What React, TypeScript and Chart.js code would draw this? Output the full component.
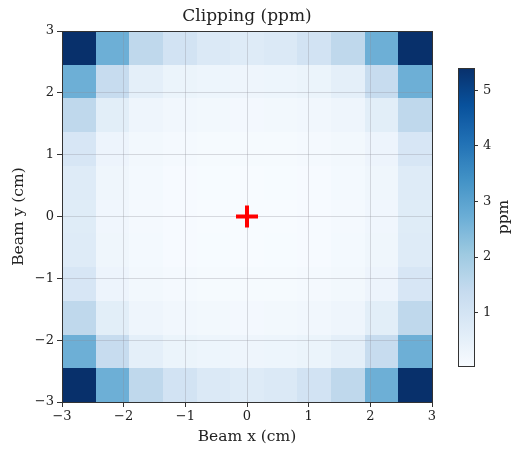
import React, { useEffect, useRef } from 'react';
import { Chart, registerables } from 'chart.js';

Chart.register(...registerables);

const FONT = "'DejaVu Serif', serif";

// Heatmap values (ppm), rows listed from top (y = +3) to bottom (y = -3), columns from x = -3 to x = +3
const row0 = [5.4, 2.7, 1.5, 1.05, 0.8, 0.7, 0.8, 1.05, 1.5, 2.7, 5.4];
const row1 = [2.7, 1.35, 0.55, 0.35, 0.3, 0.28, 0.3, 0.35, 0.55, 1.35, 2.7];
const row2 = [1.5, 0.6, 0.28, 0.2, 0.17, 0.16, 0.17, 0.2, 0.28, 0.6, 1.5];
const row3 = [0.9, 0.32, 0.18, 0.12, 0.1, 0.09, 0.1, 0.12, 0.18, 0.32, 0.9];
const row4 = [0.72, 0.25, 0.14, 0.08, 0.06, 0.05, 0.06, 0.08, 0.14, 0.25, 0.72];
const row5 = [0.68, 0.24, 0.12, 0.07, 0.05, 0.04, 0.05, 0.07, 0.12, 0.24, 0.68];
const row6 = [0.72, 0.25, 0.14, 0.08, 0.06, 0.05, 0.06, 0.08, 0.14, 0.25, 0.72];
const row7 = [0.9, 0.32, 0.18, 0.12, 0.1, 0.09, 0.1, 0.12, 0.18, 0.32, 0.9];
const row8 = [1.5, 0.6, 0.28, 0.2, 0.17, 0.16, 0.17, 0.2, 0.28, 0.6, 1.5];
const row9 = [2.7, 1.35, 0.55, 0.35, 0.3, 0.28, 0.3, 0.35, 0.55, 1.35, 2.7];
const row10 = [5.4, 2.7, 1.5, 1.05, 0.8, 0.7, 0.8, 1.05, 1.5, 2.7, 5.4];
const heatRows = [row0, row1, row2, row3, row4, row5, row6, row7, row8, row9, row10];

const AXIS_MIN = -3;
const AXIS_MAX = 3;
const axisTicks = [-3, -2, -1, 0, 1, 2, 3];
const colorbarTicks = [1, 2, 3, 4, 5];
const VMIN = 0.04;
const VMAX = 5.4;
const markerPoint = [{ x: 0, y: 0 }];
const TITLE = 'Clipping (ppm)';

const BLUES = ['#f7fbff', '#deebf7', '#c6dbef', '#9ecae1', '#6baed6', '#4292c6', '#2171b5', '#08519c', '#08306b'];

function hexToRgb(h: string) {
  return [parseInt(h.slice(1, 3), 16), parseInt(h.slice(3, 5), 16), parseInt(h.slice(5, 7), 16)];
}
const BLUES_RGB = BLUES.map(hexToRgb);

function bluesColor(t: number) {
  const tt = Math.max(0, Math.min(1, t));
  const pos = tt * (BLUES_RGB.length - 1);
  const i = Math.min(Math.floor(pos), BLUES_RGB.length - 2);
  const f = pos - i;
  const a = BLUES_RGB[i];
  const b = BLUES_RGB[i + 1];
  const c = a.map((v, k) => Math.round(v + (b[k] - v) * f));
  return `rgb(${c[0]},${c[1]},${c[2]})`;
}

const fmt = (v: number | string) => {
  const n = Number(v);
  return n < 0 ? '\u2212' + Math.abs(n) : String(n);
};

export default function App() {
  const mainRef = useRef<HTMLCanvasElement | null>(null);
  const cbRef = useRef<HTMLCanvasElement | null>(null);

  useEffect(() => {
    if (!mainRef.current || !cbRef.current) return;

    const heatPlugin = {
      id: 'heat',
      beforeDraw(chart: any) {
        const { ctx, scales } = chart;
        const xs = scales.x;
        const ys = scales.y;
        const n = heatRows.length;
        const step = (AXIS_MAX - AXIS_MIN) / n;
        ctx.save();
        heatRows.forEach((row, r) => {
          const yTop = AXIS_MAX - r * step;
          const yBot = AXIS_MAX - (r + 1) * step;
          row.forEach((v, c) => {
            const xL = AXIS_MIN + c * step;
            const xR = AXIS_MIN + (c + 1) * step;
            const px0 = Math.round(xs.getPixelForValue(xL));
            const px1 = Math.round(xs.getPixelForValue(xR));
            const py0 = Math.round(ys.getPixelForValue(yTop));
            const py1 = Math.round(ys.getPixelForValue(yBot));
            ctx.fillStyle = bluesColor((v - VMIN) / (VMAX - VMIN));
            ctx.fillRect(px0, py0, px1 - px0, py1 - py0);
          });
        });
        ctx.restore();
      },
      afterDraw(chart: any) {
        const { ctx, chartArea } = chart;
        ctx.save();
        ctx.strokeStyle = '#333';
        ctx.lineWidth = 1;
        ctx.strokeRect(
          Math.round(chartArea.left) + 0.5,
          Math.round(chartArea.top) + 0.5,
          Math.round(chartArea.right - chartArea.left),
          Math.round(chartArea.bottom - chartArea.top)
        );
        ctx.fillStyle = '#222';
        ctx.font = `17px ${FONT}`;
        ctx.textAlign = 'center';
        ctx.textBaseline = 'middle';
        ctx.fillText(TITLE, (chartArea.left + chartArea.right) / 2, 17);
        ctx.restore();
      },
    };

    const axisCommon = (titleText: string, isX: boolean) => ({
      type: 'linear' as const,
      min: AXIS_MIN,
      max: AXIS_MAX,
      afterBuildTicks: (s: any) => {
        s.ticks = axisTicks.map((v) => ({ value: v }));
      },
      afterFit: (s: any) => {
        if (isX) s.height = 47;
        else s.width = 62;
      },
      ticks: {
        callback: (v: any) => fmt(v),
        font: { family: FONT, size: 13 },
        color: '#222',
        padding: isX ? 2 : 3,
        maxRotation: 0,
        autoSkip: false,
      },
      grid: {
        color: 'rgba(140,140,150,0.3)',
        tickColor: '#333',
        tickLength: 5,
        lineWidth: 1,
      },
      border: { display: false },
      title: {
        display: true,
        text: titleText,
        font: { family: FONT, size: 15.5 },
        color: '#222',
        padding: isX ? { top: 0, bottom: 3 } : { top: 10, bottom: 0 },
      },
    });

    const main = new Chart(mainRef.current, {
      type: 'scatter',
      data: {
        datasets: [
          {
            data: markerPoint,
            pointStyle: 'cross',
            pointRadius: 11,
            pointBorderWidth: 4,
            borderColor: '#ff0000',
            backgroundColor: '#ff0000',
          } as any,
        ],
      },
      options: {
        responsive: false,
        animation: false,
        layout: { padding: { left: 0, right: 85, top: 31, bottom: 0 } },
        plugins: {
          legend: { display: false },
          tooltip: { enabled: false },
          title: { display: false },
        },
        scales: {
          x: axisCommon('Beam x (cm)', true) as any,
          y: axisCommon('Beam y (cm)', false) as any,
        },
      },
      plugins: [heatPlugin],
    });

    const cbPlugin = {
      id: 'cbar',
      beforeDraw(chart: any) {
        const { ctx, chartArea, scales } = chart;
        const ys = scales.y;
        const top = ys.getPixelForValue(VMAX);
        const bot = ys.getPixelForValue(VMIN);
        const grad = ctx.createLinearGradient(0, bot, 0, top);
        for (let i = 0; i <= 32; i++) {
          grad.addColorStop(i / 32, bluesColor(i / 32));
        }
        ctx.save();
        ctx.fillStyle = grad;
        ctx.fillRect(chartArea.left, top, chartArea.right - chartArea.left, bot - top);
        ctx.restore();
      },
      afterDraw(chart: any) {
        const { ctx, chartArea } = chart;
        ctx.save();
        ctx.strokeStyle = '#333';
        ctx.lineWidth = 1;
        ctx.strokeRect(
          Math.round(chartArea.left) + 0.5,
          Math.round(chartArea.top) + 0.5,
          Math.round(chartArea.right - chartArea.left),
          Math.round(chartArea.bottom - chartArea.top)
        );
        ctx.translate(504, (chartArea.top + chartArea.bottom) / 2);
        ctx.rotate(-Math.PI / 2);
        ctx.fillStyle = '#222';
        ctx.font = `15.5px ${FONT}`;
        ctx.textAlign = 'center';
        ctx.textBaseline = 'middle';
        ctx.fillText('ppm', 0, 0);
        ctx.restore();
      },
    };

    const cb = new Chart(cbRef.current, {
      type: 'scatter',
      data: { datasets: [] },
      options: {
        responsive: false,
        animation: false,
        layout: { padding: { left: 458, right: 0, top: 68, bottom: 83 } },
        plugins: { legend: { display: false }, tooltip: { enabled: false }, title: { display: false } },
        scales: {
          x: { display: false, min: 0, max: 1 },
          y: {
            type: 'linear',
            position: 'right',
            min: VMIN,
            max: VMAX,
            afterBuildTicks: (s: any) => {
              s.ticks = colorbarTicks.map((v) => ({ value: v }));
            },
            afterFit: (s: any) => {
              s.width = 43;
            },
            ticks: {
              font: { family: FONT, size: 13 },
              color: '#222',
              padding: 5,
              callback: (v: any) => fmt(v),
            },
            grid: {
              drawOnChartArea: false,
              tickColor: '#333',
              tickLength: 4,
            },
            border: { display: false },
          } as any,
        },
      },
      plugins: [cbPlugin],
    });

    return () => {
      main.destroy();
      cb.destroy();
    };
  }, []);

  return (
    <div style={{ position: 'fixed', left: 0, top: 0, width: 517, height: 449, background: '#fff' }}>
      <canvas ref={mainRef} width={517} height={449} style={{ position: 'absolute', left: 0, top: 0, width: 517, height: 449 }} />
      <canvas ref={cbRef} width={517} height={449} style={{ position: 'absolute', left: 0, top: 0, width: 517, height: 449 }} />
    </div>
  );
}
